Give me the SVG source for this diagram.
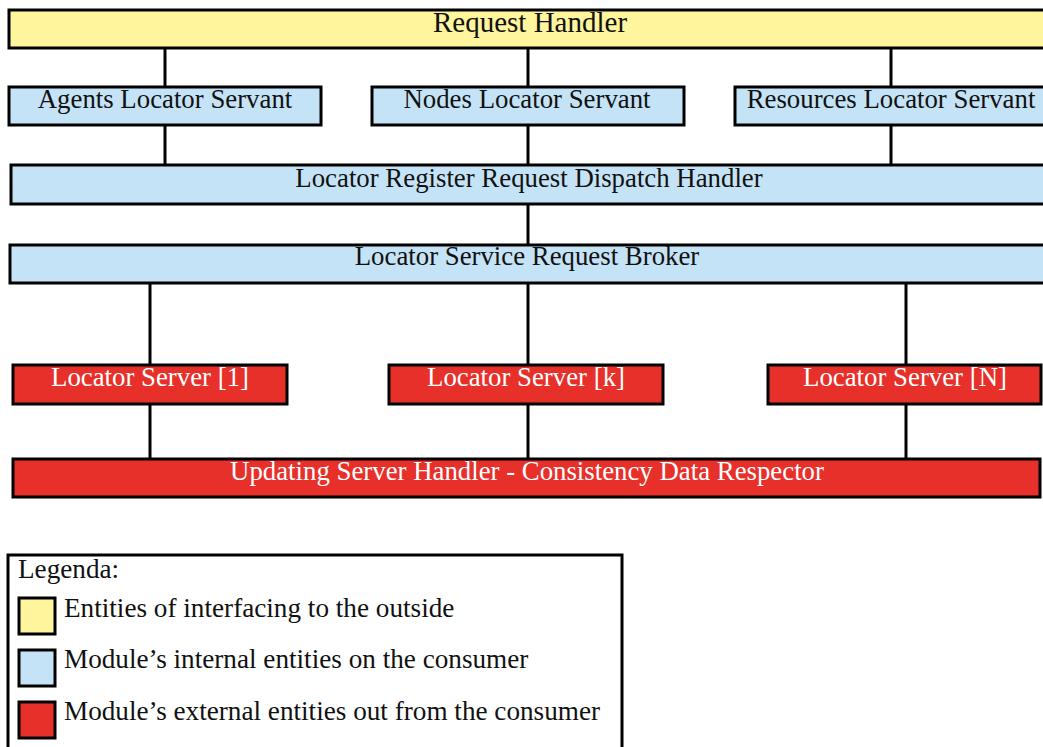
<svg xmlns="http://www.w3.org/2000/svg" width="1043" height="747" viewBox="0 0 1043 747">
<style>
rect{stroke:#000;stroke-width:3}
.y{fill:#fff59d}
.b{fill:#c5e3f6}
.r{fill:#e8302a}
text{font-family:"Liberation Serif","DejaVu Serif",serif;font-size:26.8px;text-anchor:middle;fill:#111}
.w{fill:#fff}
.l{text-anchor:start;font-size:27.2px}
#conn line{stroke:#000;stroke-width:3}
</style>
<rect x="0" y="0" width="1043" height="747" style="fill:#fff;stroke:none"/>
<g id="conn">
<line x1="165" y1="48" x2="165" y2="87"/>
<line x1="528" y1="48" x2="528" y2="87"/>
<line x1="891" y1="48" x2="891" y2="87"/>
<line x1="165" y1="125" x2="165" y2="165"/>
<line x1="528" y1="125" x2="528" y2="165"/>
<line x1="891" y1="125" x2="891" y2="165"/>
<line x1="528" y1="204" x2="528" y2="245"/>
<line x1="150" y1="283" x2="150" y2="365"/>
<line x1="528" y1="283" x2="528" y2="365"/>
<line x1="906" y1="283" x2="906" y2="365"/>
<line x1="150" y1="404" x2="150" y2="459"/>
<line x1="528" y1="404" x2="528" y2="459"/>
<line x1="906" y1="404" x2="906" y2="459"/>
</g>
<g id="request-handler"><rect class="y" x="9" y="10" width="1040" height="38"/><text x="530" y="32" style="font-size:29px">Request Handler</text></g>
<g id="agents-servant"><rect class="b" x="9" y="87" width="312" height="38"/><text x="165" y="108">Agents Locator Servant</text></g>
<g id="nodes-servant"><rect class="b" x="372" y="87" width="312" height="38"/><text x="527" y="108">Nodes Locator Servant</text></g>
<g id="resources-servant"><rect class="b" x="735" y="87" width="314" height="38"/><text x="891" y="108">Resources Locator Servant</text></g>
<g id="dispatch-handler"><rect class="b" x="11" y="165" width="1038" height="39"/><text x="529" y="187">Locator Register Request Dispatch Handler</text></g>
<g id="broker"><rect class="b" x="10" y="245" width="1039" height="38"/><text x="527" y="265">Locator Service Request Broker</text></g>
<g id="server-1"><rect class="r" x="13" y="365" width="274" height="39"/><text class="w" x="150" y="386">Locator Server [1]</text></g>
<g id="server-k"><rect class="r" x="389" y="365" width="274" height="39"/><text class="w" x="526" y="386">Locator Server [k]</text></g>
<g id="server-n"><rect class="r" x="768" y="365" width="273" height="39"/><text class="w" x="905" y="386">Locator Server [N]</text></g>
<g id="updating-handler"><rect class="r" x="13" y="459" width="1027" height="38"/><text class="w" x="527" y="480">Updating Server Handler - Consistency Data Respector</text></g>
<g id="legend">
<rect x="8" y="555" width="614" height="200" style="fill:#fff"/>
<text class="l" x="18" y="578">Legenda:</text>
<rect class="y" x="19" y="598" width="36" height="36"/>
<text class="l" x="64" y="617">Entities of interfacing to the outside</text>
<rect class="b" x="19" y="650" width="36" height="36"/>
<text class="l" x="64" y="668">Module’s internal entities on the consumer</text>
<rect class="r" x="19" y="702" width="36" height="36"/>
<text class="l" x="64" y="720">Module’s external entities out from the consumer</text>
</g>
</svg>
